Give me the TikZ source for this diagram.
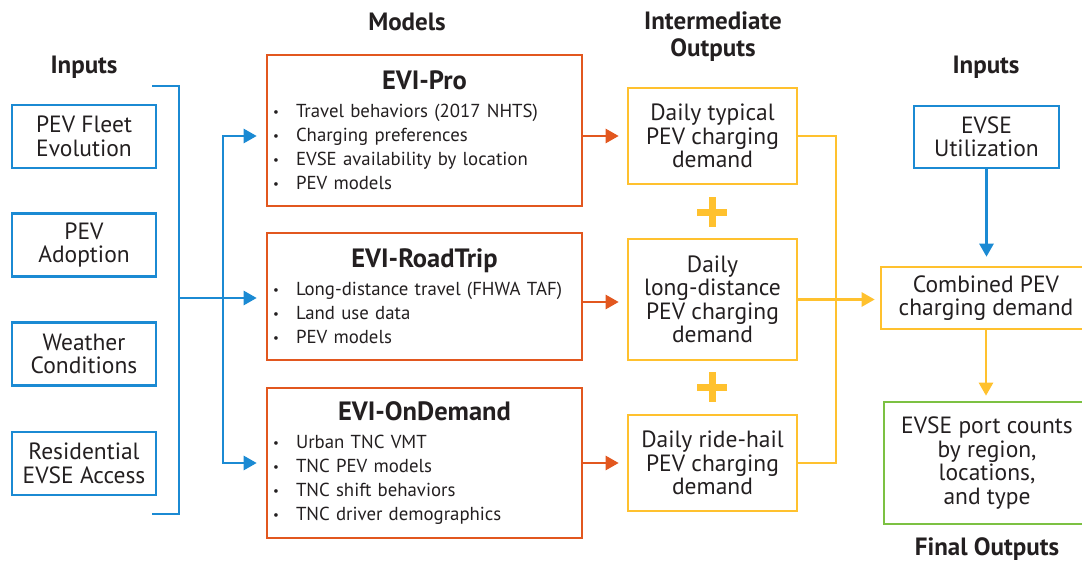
\documentclass[tikz,border=0pt]{standalone}
\usepackage{fontspec}
\setmainfont{PT Sans}
\usetikzlibrary{arrows.meta}

\definecolor{evblue}{HTML}{1B8AD3}
\definecolor{evorange}{HTML}{E2571F}
\definecolor{evyellow}{HTML}{FFC12E}
\definecolor{evgreen}{HTML}{7CC143}
\definecolor{evtext}{HTML}{231F20}

\setlength{\parindent}{0pt}
\newcommand{\bul}{\makebox[23pt][l]{\raisebox{1pt}{\fontsize{13}{13}\selectfont\textbullet}}}
\newcommand{\modtitle}[1]{{\centering\fontsize{26.5}{28}\selectfont\bfseries #1\par}\vspace{4pt}}

\tikzset{
  box/.style={draw, line width=2.6pt, inner sep=0pt, align=center, text=evtext,
    font=\fontsize{23.5}{23.5}\selectfont},
  inbox/.style={box, draw=evblue, minimum width=144pt, minimum height=63pt},
  model/.style={box, draw=evorange, minimum width=315pt, inner xsep=6pt,
    text width=303pt, align=left, font=\fontsize{18.8}{24}\selectfont},
  interbox/.style={box, draw=evyellow, minimum width=169pt},
  head/.style={text=evtext, align=center, font=\fontsize{25}{27}\selectfont\bfseries},
  link/.style={line width=2.6pt},
  tip/.style={link, -{Triangle[length=13pt,width=14pt]}}
}

\begin{document}
\begin{tikzpicture}[x=1pt,y=-1pt]
    \useasboundingbox (0,0) rectangle (1082,562);

    \node[head] (hdInputs) at (84,67) {Inputs};
    \node[head] (hdModels) at (407,22) {Models};
    \node[head] (hdInter) at (713,37) {Intermediate\\Outputs};
    \node[head] (hdInputsR) at (986,67) {Inputs};
    \node[head] (hdFinal) at (987,549) {Final Outputs};

    \node[inbox] (fleet) at (84,136.5) {PEV Fleet\\Evolution};
    \node[inbox] (adopt) at (84,245) {PEV\\Adoption};
    \node[inbox] (weather) at (84,354) {Weather\\Conditions};
    \node[inbox] (resid) at (84,463.5) {Residential\\EVSE Access};

    \node[model, minimum height=151pt] (pro) at (424.5,130.5) {\modtitle{EVI-Pro}
      \bul Travel behaviors (2017 NHTS)\\
      \bul Charging preferences\\
      \bul EVSE availability by location\\
      \bul PEV models};
    \node[model, minimum height=127pt] (trip) at (424.5,296.5) {\modtitle{EVI-RoadTrip}
      \bul Long-distance travel (FHWA TAF)\\
      \bul Land use data\\
      \bul PEV models};
    \node[model, minimum height=150pt] (demand) at (424.5,463) {\modtitle{EVI-OnDemand}
      \bul Urban TNC VMT\\
      \bul TNC PEV models\\
      \bul TNC shift behaviors\\
      \bul TNC driver demographics};

    \node[interbox, minimum height=96pt] (typical) at (712.5,136) {Daily typical\\PEV charging\\demand};
    \node[interbox, minimum height=121pt] (longdist) at (712.5,299.5) {Daily\\long-distance\\PEV charging\\demand};
    \node[interbox, minimum height=96pt] (ridehail) at (712.5,463) {Daily ride-hail\\PEV charging\\demand};

    \node[box, draw=evblue, minimum width=145pt, minimum height=62pt] (util) at (986.5,137) {EVSE\\Utilization};
    \node[box, draw=evyellow, minimum width=210pt, minimum height=62pt] (combined) at (986,298) {Combined PEV\\charging demand};
    \node[box, draw=evgreen, minimum width=206pt, minimum height=122pt] (ports) at (987,463) {EVSE port counts\\by region,\\locations,\\and type};

    % plus signs between the intermediate outputs
    \foreach \y in {212,387}
      \draw[evyellow, line width=7pt] (697,\y) -- (727,\y) (712,\y-15) -- (712,\y+15);

    % bracket over the inputs
    \coordinate (bkTop) at (152,86);
    \coordinate (bkBot) at (152,514);
    \coordinate (bkMid) at (179,298);
    \coordinate (split) at (223,298);
    \draw[link, evblue] (bkTop) -| (bkMid) |- (bkBot);
    \draw[tip, evblue, shorten >=9pt] (bkMid) -- (bkMid -| trip.west);
    \draw[tip, evblue, shorten >=9pt] (split) |- (pro.west |- typical.west);
    \draw[tip, evblue, shorten >=9pt] (split) |- (demand.west |- ridehail.west);

    \draw[tip, evorange, shorten >=8pt] (pro.east |- typical.west) -- (typical.west);
    \draw[tip, evorange, shorten >=8pt] (trip.east |- 0,302) -- (longdist.west |- 0,302);
    \draw[tip, evorange, shorten >=8pt] (demand.east |- ridehail.west) -- (ridehail.west);

    \coordinate (join) at (836,300);
    \draw[link, evyellow] (typical.east) -| (join) |- (ridehail.east);
    \draw[tip, evyellow, shorten >=5pt] (longdist.east) -- (longdist.east -| combined.west);

    \draw[tip, evblue, shorten >=9pt] (util.south) -- (util.south |- combined.north);
    \draw[tip, evyellow, shorten >=5pt] (combined.south) -- (combined.south |- ports.north);

\end{tikzpicture}
\end{document}
